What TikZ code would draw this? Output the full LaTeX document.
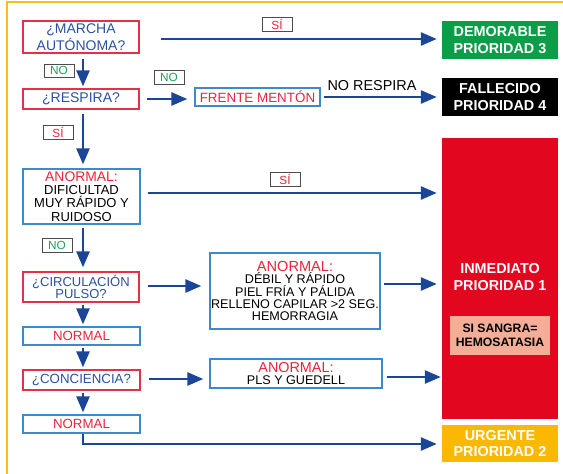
\documentclass[tikz,border=0pt]{standalone}
\usepackage{fontspec}
\setmainfont{Liberation Sans}
\usetikzlibrary{arrows.meta}
\definecolor{frameyellow}{HTML}{F9BE1E}
\definecolor{qred}{HTML}{E5304A}
\definecolor{qblue}{HTML}{2A52A0}
\definecolor{arrowblue}{HTML}{1B4596}
\definecolor{tagred}{HTML}{E8243C}
\definecolor{taggreen}{HTML}{1BA35C}
\definecolor{infoblue}{HTML}{3C8ACB}
\definecolor{greenfill}{HTML}{0C9D48}
\definecolor{redfill}{HTML}{E2071F}
\definecolor{yellowfill}{HTML}{FAB800}
\definecolor{salmon}{HTML}{F4AE97}
\newcommand{\fsz}[2]{\fontsize{#1}{#2}\selectfont}
\tikzset{
  question/.style={draw=qred, line width=1.3pt, text=qblue, inner sep=0pt,
    align=center, font=\fsz{14}{16.7}},
  info/.style={draw=infoblue, line width=1.3pt, inner sep=0pt, align=center,
    font=\fsz{12.6}{12.3}},
  tag/.style={draw=black!70, line width=1pt, fill=white, inner sep=0pt,
    minimum width=30pt, minimum height=14pt, font=\fsz{11.8}{12}},
  outcome/.style={inner sep=0pt, text=white, align=center,
    minimum width=116pt, font=\bfseries\fsz{14.4}{16.7}},
  arr/.style={draw=arrowblue, line width=2.6pt,
    -{Triangle[length=16pt,width=13pt]}},
}
\begin{document}
\begin{tikzpicture}[x=1pt,y=-1pt]
\useasboundingbox (0,0) rectangle (563,474);
% outer frame
\draw[frameyellow, line width=1.6pt] (7,474) -- (7,2) -- (563,2);

% outcome boxes
\node[outcome, fill=greenfill, minimum height=38pt] (demorable) at (500,40)
  {DEMORABLE\\PRIORIDAD 3};
\node[outcome, fill=black, minimum height=38pt] (fallecido) at (500,97)
  {FALLECIDO\\PRIORIDAD 4};
\node[fill=redfill, minimum width=116pt, minimum height=281pt, inner sep=0pt]
  (inmediato) at (500,278.5) {};
\node[outcome, text=white] (inmtext) at (500,277) {INMEDIATO\\PRIORIDAD 1};
\node[fill=salmon, inner sep=0pt, minimum width=100pt, minimum height=39pt,
  align=center, font=\bfseries\fsz{12.2}{13.6}] (sangra) at (500,335.5)
  {SI SANGRA=\\HEMOSATASIA};
\node[outcome, fill=yellowfill, minimum height=37pt] (urgente) at (500,443.5)
  {URGENTE\\PRIORIDAD 2};

% left column
\node[question, minimum width=116pt, minimum height=32pt] (marcha) at (81,37)
  {¿MARCHA\\AUTÓNOMA?};
\node[question, minimum width=116pt, minimum height=20pt] (respira) at (81,99)
  {¿RESPIRA?};
\node[info, minimum width=117pt, minimum height=55pt, font=\fsz{13}{13.3}]
  (anormalA) at (81.5,196.5)
  {{\color{tagred}\fsz{13.9}{13.3}ANORMAL:}\\DIFICULTAD\\MUY RÁPIDO Y\\RUIDOSO};
\node[question, minimum width=116pt, minimum height=30pt, font=\fsz{13}{12.7}]
  (circ) at (81,287) {¿CIRCULACIÓN\\PULSO?};
\node[info, minimum width=117pt, minimum height=18pt, text=tagred,
  font=\fsz{13.3}{14}] (normalA) at (81.5,336) {NORMAL};
\node[question, minimum width=117pt, minimum height=20pt, font=\fsz{13.3}{14}]
  (conc) at (81.5,380) {¿CONCIENCIA?};
\node[info, minimum width=117pt, minimum height=18pt, text=tagred,
  font=\fsz{13.3}{14}] (normalB) at (81.5,424) {NORMAL};

% middle column
\node[draw=infoblue, line width=1.3pt, text=tagred, inner sep=0pt,
  minimum width=125pt, minimum height=18pt, font=\fsz{13.4}{14}]
  (frente) at (257.5,97) {FRENTE MENTÓN};
\node[info, minimum width=170pt, minimum height=76pt] (anormalB) at (295,291)
  {{\color{tagred}\fsz{14.6}{15}ANORMAL:}\\DÉBIL Y RÁPIDO\\PIEL FRÍA Y PÁLIDA\\
   RELLENO CAPILAR >2 SEG.\\HEMORRAGIA};
\node[info, minimum width=172pt, minimum height=29pt] (anormalC) at (296,373.5)
  {{\color{tagred}\fsz{14.4}{13}ANORMAL:}\\PLS Y GUEDELL};

% answer tags
\node[tag, text=tagred] (si1) at (277,24.5) {SÍ};
\node[tag, text=taggreen, minimum height=13pt] (no1) at (59,70.5) {NO};
\node[tag, text=taggreen] (no2) at (169,77) {NO};
\node[tag, text=tagred] (si3) at (58,132.5) {SÍ};
\node[tag, text=tagred] (si2) at (285,179) {SÍ};
\node[tag, text=taggreen] (no3) at (57,245.5) {NO};
\node[font=\fsz{14.4}{15}] (norespira) at (372,86) {NO RESPIRA};

% connectors, left column downwards
\draw[arr, shorten <=5pt, shorten >=2pt]
  ([xshift=2pt]marcha.south) -- ([xshift=2pt]respira.north);
\draw[arr, shorten <=4pt, shorten >=4pt]
  ([xshift=2pt]respira.south) -- ([xshift=1.5pt]anormalA.north);
\draw[arr, shorten <=3pt, shorten >=4pt]
  ([xshift=1.5pt]anormalA.south) -- ([xshift=2pt]circ.north);
\draw[arr, shorten <=2pt, shorten >=2pt]
  ([xshift=2pt]circ.south) -- ([xshift=1.5pt]normalA.north);
\draw[arr, shorten <=2pt, shorten >=2pt]
  ([xshift=1.5pt]normalA.south) -- ([xshift=1.5pt]conc.north);
\draw[arr, shorten <=2pt, shorten >=2pt]
  ([xshift=1.5pt]conc.south) -- ([xshift=1.5pt]normalB.north);

% connectors, rightwards
\draw[arr, shorten <=21pt, shorten >=5pt]
  (marcha.east |- 0,39) -- (demorable.west |- 0,39);
\draw[arr, shorten <=7pt, shorten >=7pt] (respira.east) -- (frente.west |- respira.east);
\draw[arr, shorten <=3pt, shorten >=5pt] (frente.east) -- (fallecido.west |- frente.east);
\draw[arr, shorten <=7pt, shorten >=5pt]
  (anormalA.east |- 0,193) -- (inmediato.west |- 0,193);
\draw[arr, shorten <=8pt, shorten >=8pt]
  (circ.east |- 0,286) -- (anormalB.west |- 0,286);
\draw[arr, shorten <=3pt, shorten >=5pt]
  (anormalB.east |- 0,284) -- (inmediato.west |- 0,284);
\draw[arr, shorten <=8pt, shorten >=6pt]
  (conc.east |- 0,379) -- (anormalC.west |- 0,379);
\draw[arr, shorten <=4pt, shorten >=1pt]
  (anormalC.east |- 0,377) -- (inmediato.west |- 0,377);
\draw[arr, shorten >=5pt]
  ([xshift=1.5pt]normalB.south) |- (urgente.west |- 0,444);
\end{tikzpicture}
\end{document}
